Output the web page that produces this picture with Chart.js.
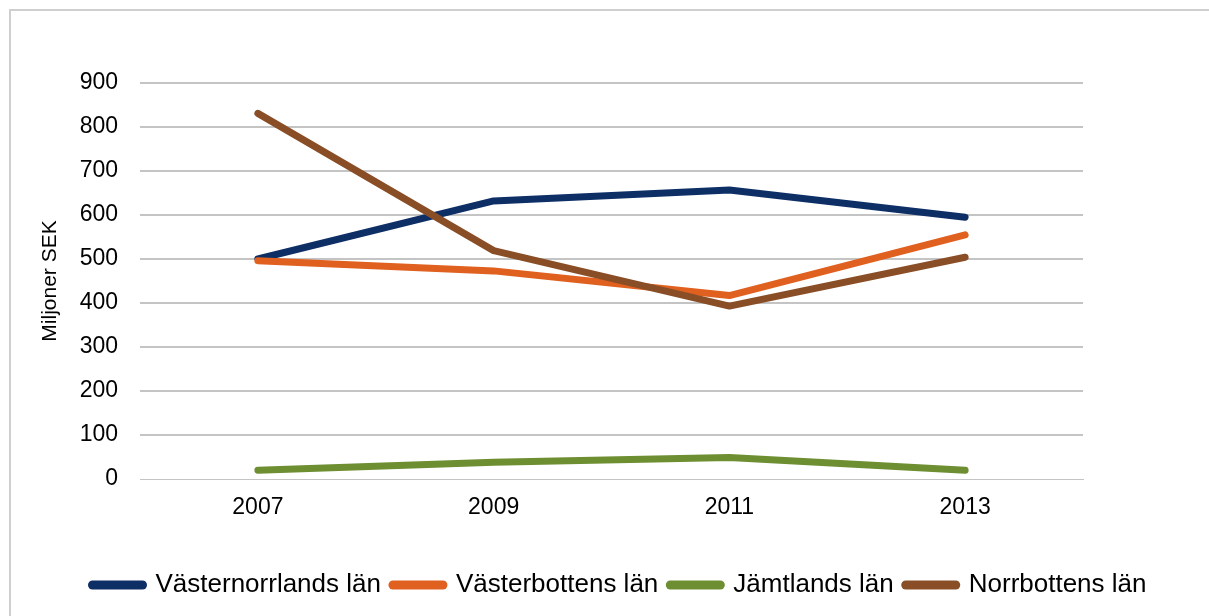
<!DOCTYPE html>
<html>
<head>
<meta charset="utf-8">
<script src="https://cdn.jsdelivr.net/npm/chart.js@4"></script>
<style>
  html, body { margin: 0; padding: 0; background: #fff; overflow: hidden; }
  #wrap { position: relative; width: 1209px; height: 616px; }
  #frame {
    position: absolute; left: 9px; top: 9px; width: 1205px; height: 620px;
    border: 2px solid #cfcfcf; pointer-events: none;
  }
</style>
</head>
<body>
<div id="wrap">
  <canvas id="chart" width="1209" height="616"></canvas>
  <div id="frame"></div>
</div>
<script>
const years = ['2007', '2009', '2011', '2013'];
const vasternorrland = [500, 632, 657, 595];
const vasterbotten = [496, 473, 417, 555];
const jamtland = [20, 38, 49, 20];
const norrbotten = [831, 519, 393, 504];

const seriesNames = ['Västernorrlands län', 'Västerbottens län', 'Jämtlands län', 'Norrbottens län'];
const seriesColors = ['#0e2f66', '#e0601f', '#6e8e32', '#8a4e27'];
const seriesValues = [vasternorrland, vasterbotten, jamtland, norrbotten];

const font = 'Liberation Sans, Arial, sans-serif';

const ctx = document.getElementById('chart').getContext('2d');
new Chart(ctx, {
  type: 'line',
  data: {
    labels: years,
    datasets: seriesValues.map((vals, i) => ({
      label: seriesNames[i],
      data: vals,
      borderColor: seriesColors[i],
      backgroundColor: seriesColors[i],
      borderWidth: 7,
      borderCapStyle: 'round',
      borderJoinStyle: 'round',
      pointRadius: 0,
      pointStyle: 'line',
      tension: 0,
      // later series drawn on top, like the original
      order: seriesValues.length - i
    }))
  },
  options: {
    responsive: false,
    animation: false,
    devicePixelRatio: 1,
    layout: { padding: { left: 30, right: 0, top: 83, bottom: 8 } },
    plugins: {
      tooltip: { enabled: false },
      legend: {
        position: 'bottom',
        labels: {
          usePointStyle: true,
          pointStyle: 'line',
          pointStyleWidth: 50,
          padding: 12,
          color: '#000',
          font: { family: font, size: 26 },
          sort: (a, b) => a.datasetIndex - b.datasetIndex,
          generateLabels: (chart) =>
            Chart.defaults.plugins.legend.labels.generateLabels(chart).map(l => ({
              ...l, lineCap: 'round', lineWidth: 9, strokeStyle: seriesColors[l.datasetIndex]
            }))
        }
      }
    },
    scales: {
      x: {
        offset: true,
        grid: { display: false, drawTicks: false },
        border: { display: true, color: '#c4c4c4', width: 1 },
        ticks: { color: '#000', padding: 15, font: { family: font, size: 23 } },
        afterFit: (scale) => { scale.height = 81; }
      },
      y: {
        min: 0,
        max: 900,
        ticks: { stepSize: 100, color: '#000', padding: 22, font: { family: font, size: 23 } },
        grid: {
          drawTicks: false,
          color: '#c4c4c4',
          lineWidth: (c) => (c.tick && c.tick.value === 0 ? 0 : 2)
        },
        border: { display: false },
        title: {
          display: true,
          text: 'Miljoner SEK',
          color: '#000',
          font: { family: font, size: 21 },
          padding: { top: 8, bottom: 0 }
        },
        afterFit: (scale) => { scale.width = 110; }
      },
      // empty right margin so the legend can use the full width
      yRight: {
        position: 'right',
        min: 0,
        max: 900,
        ticks: { display: false },
        grid: { display: false, drawTicks: false },
        border: { display: false },
        afterFit: (scale) => { scale.width = 126; }
      }
    }
  }
});
</script>
</body>
</html>
